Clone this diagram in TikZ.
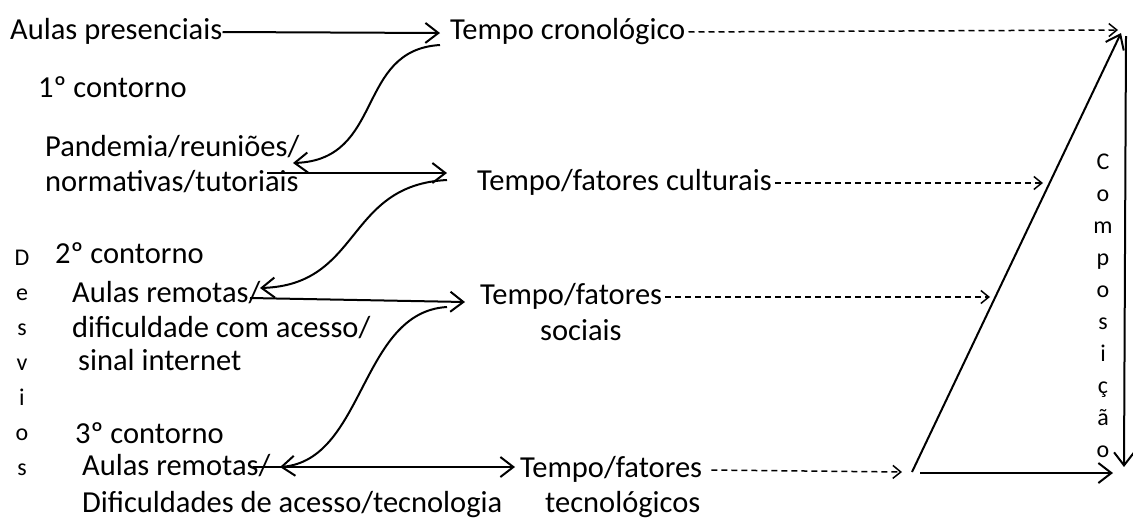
\documentclass[tikz,border=0pt]{standalone}
\usepackage{fontspec}
\setmainfont{Carlito}
\usetikzlibrary{arrows.meta}
\tikzset{
  lbl/.style={anchor=west, inner sep=0pt, text height=20pt, text depth=6pt},
  stack/.style={align=center, inner sep=0pt, font=\fontsize{24}{35}\selectfont},
  arr/.style={-{Straight Barb[length=13pt,width=20pt]}, line width=2pt},
  dsh/.style={-{Straight Barb[length=8pt,width=13pt]}, line width=1.5pt, dash pattern=on 6pt off 4pt},
}
\begin{document}
\begin{tikzpicture}[x=1pt,y=-1pt,font=\fontsize{30.5}{35}\selectfont]
  \useasboundingbox (0,0) rectangle (1133,523);
  \draw
    (10,32) node[lbl] (ap){Aulas presenciais}
    (450,32) node[lbl] (tc){Tempo cronológico}
    (38,90) node[lbl] (c1){1º contorno}
    (45,149) node[lbl] (pa){Pandemia/reuniões/}
    (45,184) node[lbl] (pb){normativas/tutoriais}
    (477,183) node[lbl] (tf){Tempo/fatores culturais}
    (55,256) node[lbl] (c2){2º contorno}
    (72,295) node[lbl] (ra){Aulas remotas/}
    (72,330) node[lbl] (rb){dificuldade com acesso/}
    (78,363) node[lbl] (rc){sinal internet}
    (480,297) node[lbl] (ts){Tempo/fatores}
    (540,333) node[lbl] (tsb){sociais}
    (75,436) node[lbl] (c3){3º contorno}
    (82,468) node[lbl] (ua){Aulas remotas/}
    (82,505) node[lbl] (ub){Dificuldades de acesso/tecnologia}
    (520,470) node[lbl] (tt){Tempo/fatores}
    (545,505) node[lbl] (ttb){tecnológicos}
    (22,363) node[stack] (desv){D\\e\\s\\v\\i\\o\\s}
    (1103,306) node[stack, font=\fontsize{24}{32}\selectfont] (comp){C\\o\\m\\p\\o\\s\\i\\ç\\ã\\o};
  \path
    (440,33) coordinate (h1)
    (267,173) coordinate (s2) (447,173) coordinate (h2)
    (250,298) coordinate (s3) (465,302) coordinate (h3)
    (253,467) coordinate (s4) (515,467) coordinate (h4)
    (440,45) coordinate (k1) (293,163) coordinate (m1)
    (447,180) coordinate (k2) (260,288) coordinate (m2)
    (447,307) coordinate (k3) (280,467) coordinate (m3)
    (1118,30) coordinate (q1) (1043,183) coordinate (q2)
    (990,297) coordinate (q3) (902,472) coordinate (q4)
    (912,472) coordinate (z0) (1121,33) coordinate (z1)
    (920,473) coordinate (z2) (1113,473) coordinate (z3)
    (1126,36) coordinate (z4) (1124,467) coordinate (z5);
  \begin{scope}[arr]
    \draw (ap.east) -- (h1);
    \draw (s2) -- (h2);
    \draw (s3) -- (h3);
    \draw (s4) -- (h4);
    \draw (k1) .. controls (355,50) and (385,160) .. (m1);
    \draw (k2) .. controls (345,185) and (362,285) .. (m2);
    \draw (k3) .. controls (360,312) and (365,460) .. (m3);
    \draw (z0) -- (z1);
    \draw (z2) -- (z3);
    \draw (z4) -- (z5);
  \end{scope}
  \begin{scope}[dsh, shorten <=3pt]
    \draw (tc.east) -- (q1);
    \draw (tf.east) -- (q2);
    \draw (ts.east) -- (q3);
    \draw ([xshift=6pt]tt.east) -- (q4);
  \end{scope}
\end{tikzpicture}
\end{document}
